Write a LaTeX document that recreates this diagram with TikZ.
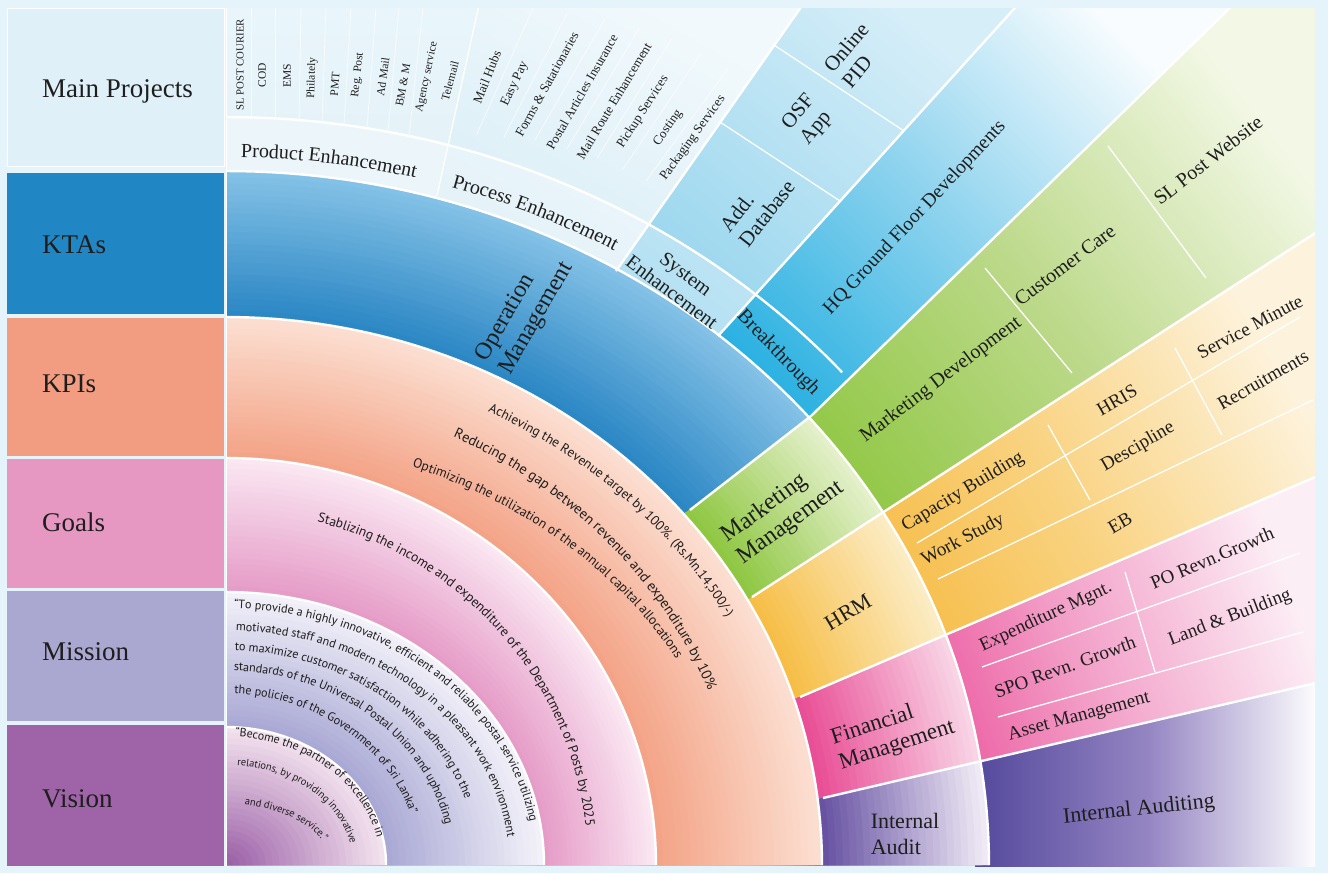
\documentclass[tikz,border=0pt]{standalone}
\usepackage{fontspec}
\setmainfont{Liberation Serif}
\newfontfamily\sansf{PT Sans}
\usetikzlibrary{decorations.text}
\definecolor{bg}{HTML}{E5F3FA}
\definecolor{mp}{HTML}{E0F0F8}
\definecolor{kta}{HTML}{2186C4}
\definecolor{kpi}{HTML}{F29D82}
\definecolor{goal}{HTML}{E697C2}
\definecolor{mis}{HTML}{AAA7D1}
\definecolor{vis}{HTML}{9F63A8}
\definecolor{txt}{HTML}{1E1E1E}
\definecolor{opin}{HTML}{2A86C4}\definecolor{opout}{HTML}{86C3E7}
\definecolor{mkin}{HTML}{8DC63F}\definecolor{mkout}{HTML}{E6F1CE}
\definecolor{hrin}{HTML}{F6BD44}\definecolor{hrout}{HTML}{FCEDC8}
\definecolor{fiin}{HTML}{E84C94}\definecolor{fiout}{HTML}{F9D8E8}
\definecolor{auin}{HTML}{6550A1}\definecolor{auout}{HTML}{F3EEF8}
\definecolor{kpin}{HTML}{F3A386}\definecolor{kpout}{HTML}{FCE0D3}
\definecolor{goin}{HTML}{E59BC7}\definecolor{goout}{HTML}{FBE9F3}
\definecolor{miin}{HTML}{A9A7D4}\definecolor{miout}{HTML}{F4F3FA}
\definecolor{viin}{HTML}{9A5EA6}\definecolor{viout}{HTML}{F5E6F0}
\definecolor{prodb}{HTML}{DCEFF8}\definecolor{prodt}{HTML}{E9F5FA}
\definecolor{procb}{HTML}{CDE8F4}\definecolor{proct}{HTML}{F2F9FC}
\definecolor{sysb}{HTML}{8FD2EC}\definecolor{syst}{HTML}{D6EEF8}
\definecolor{hqb}{HTML}{27B0E1}\definecolor{hqm}{HTML}{8ED3EE}\definecolor{hqt}{HTML}{F8FCFE}
\definecolor{grb}{HTML}{8DC63F}\definecolor{grm}{HTML}{BCD98A}\definecolor{grt}{HTML}{F3F8E6}
\definecolor{orb}{HTML}{F5B534}\definecolor{orm}{HTML}{F9D27F}\definecolor{ort}{HTML}{FDF3DD}
\definecolor{pkb}{HTML}{E8388B}\definecolor{pkm}{HTML}{F29CC6}\definecolor{pkt}{HTML}{FCEEF5}
\definecolor{pub}{HTML}{54489C}\definecolor{pum}{HTML}{9485C2}\definecolor{put}{HTML}{FFFFFF}
\newcommand\fz[2]{\fontsize{#1}{#2}\selectfont}
\newcommand\kf{\sansf\fz{13.4}{15}}
\newcommand\kfb{\sansf\fz{14.4}{16}}
\newcommand\gf{\sansf\fz{13.6}{15}}
\newcommand\mf{\sansf\fz{12.2}{14}}
\newcommand\vfa{\sansf\fz{12}{13}}
\newcommand\vfb{\sansf\fz{10.5}{12}}
\newcommand\lbf{\fz{20}{22}}
\newcommand\ringfill[6]{%
  \foreach \j in {24,23,...,1}{%
    \pgfmathsetmacro\rxa{#1+(#3-#1)*\j/24}%
    \pgfmathsetmacro\rya{#2+(#4-#2)*\j/24}%
    \pgfmathtruncatemacro\pc{100*(\j-0.5)/24}%
    \fill[fill=#6!\pc!#5] (226,865) -- plot[domain=0:90,samples=46,variable=\t] ({226+\rxa*cos(\t)},{865-\rya*sin(\t)}) -- cycle;
  }}
\begin{document}
\begin{tikzpicture}[x=1pt,y=-1pt,
  sep/.style={white,line width=2.4pt},
  tsep/.style={white,line width=1.3pt},
  faint/.style={white,line width=0.9pt,opacity=0.6},
  lbl/.style={text=txt,inner sep=0pt},
  head/.style={lbl,anchor=base west,font=\fz{27}{30}},
  cell/.style={lbl,font=\fz{20}{23},align=center},
  kra/.style={lbl,font=\fz{24}{27},align=left},
  item/.style={lbl,font=\fz{11.5}{13}},
  pitem/.style={lbl,font=\fz{13}{15}},
  band/.style={lbl,font=\fz{19}{22}},
  arct/.style={decorate},
]
\useasboundingbox (0,0) rectangle (1328,873);
\fill[bg] (0,0) rectangle (1328,873);
% ---- left column
\fill[mp] (7,8) rectangle (224,166);
\draw[white,line width=1pt] (7,8) rectangle (224,166);
\fill[kta] (7,173) rectangle (224,314);
\fill[kpi] (7,318) rectangle (224,456);
\fill[goal] (7,459) rectangle (224,588);
\fill[mis] (7,591) rectangle (224,721);
\fill[vis] (7,725) rectangle (224,866);
\node[head] (hmp) at (42,97) {Main Projects};
\node[head] (hkta) at (42,253) {KTAs};
\node[head] (hkpi) at (42,392) {KPIs};
\node[head] (hgoal) at (42,531) {Goals};
\node[head] (hmis) at (42,660) {Mission};
\node[head] (hvis) at (42,807) {Vision};
% ---- fan
\begin{scope}
\clip (226,8) rectangle (1315,866);
% top sectors
\shade[bottom color=prodb, top color=prodt] (226,420) -- (226,0) -- (480,0) -- (437,196) -- (388,420) -- cycle;
\shade[bottom color=procb, top color=proct, shading angle=-30] (388,420) -- (480,0) -- (806,0) -- (616,271) -- (559,353) -- cycle;
\shade[bottom color=sysb, top color=syst, shading angle=-40] (559,353) -- (806,0) -- (1022,0) -- (718,336) -- (691,366) -- cycle;
\shade[bottom color=hqb, top color=hqt, middle color=hqm, shading angle=-45] (691,366) -- (1022,0) -- (1238,0) -- (811,416) -- (760,466) -- cycle;
% outer bands
\shade[bottom color=grb, top color=grt, middle color=grm, shading angle=-52] (760,466) -- (1238,0) -- (1320,0) -- (1320,230) -- (752,597) -- cycle;
\shade[bottom color=orb, top color=ort, middle color=orm, shading angle=-60] (752,597) -- (1320,230) -- (1320,475) -- (800,697) -- cycle;
\shade[bottom color=pkb, top color=pkt, middle color=pkm, shading angle=-70] (800,697) -- (1320,475) -- (1320,682) -- (823,798) -- cycle;
\shade[bottom color=pub, top color=put, middle color=pum, shading angle=-90] (975,762) -- (1320,682) -- (1320,870) -- (975,870) -- cycle;
% label band overlay
\begin{scope}
\clip (226,0) -- (1022,0) -- (691,366) -- (226,700) -- cycle;
\fill[white,opacity=0.3,even odd rule] (226,865) -- plot[domain=0:90,samples=60,variable=\t] ({226+819*cos(\t)},{865-748*sin(\t)}) -- cycle
  (226,865) -- plot[domain=0:90,samples=60,variable=\t] ({226+763*cos(\t)},{865-694*sin(\t)}) -- cycle;
\end{scope}
% KTA ring
\ringfill{596}{548}{763}{694}{opin}{opout}
\begin{scope}\clip (666,528) -- (835,398) -- (912,492) -- (727,614) -- cycle;
\ringfill{596}{548}{763}{694}{mkin}{mkout}\end{scope}
\begin{scope}\clip (727,614) -- (912,492) -- (978,620) -- (772,709) -- cycle;
\ringfill{596}{548}{763}{694}{hrin}{hrout}\end{scope}
\begin{scope}\clip (772,709) -- (978,620) -- (1012,753) -- (794,805) -- cycle;
\ringfill{596}{548}{763}{694}{fiin}{fiout}\end{scope}
\begin{scope}\clip (794,805) -- (1012,753) -- (1050,880) -- (780,880) -- cycle;
\ringfill{596}{548}{763}{694}{auin}{auout}\end{scope}
% inner rings
\ringfill{430}{407}{596}{548}{kpin}{kpout}
\ringfill{318}{273}{430}{407}{goin}{goout}
\ringfill{160}{138}{318}{273}{miin}{miout}
\ringfill{0}{0}{160}{138}{viin}{viout}
% white separators
\foreach \rx/\ry in {160/138,318/273,430/407,596/548,763/694}{
  \draw[sep] plot[domain=0:90,samples=80,variable=\t] ({226+\rx*cos(\t)},{865-\ry*sin(\t)});}
\draw[sep] plot[domain=41.2:90,samples=60,variable=\t] ({226+819*cos(\t)},{865-748*sin(\t)});
\draw[tsep] (437,196) -- (480,0);
\draw[sep] (616,271) -- (806,0);
\draw[sep] (718,336) -- (1022,0);
\draw[sep] (811,416) -- (1238,0);
\draw[sep] (690,510) -- (811,416);
\draw[sep] (752,597) -- (1320,230);
\draw[sep] (800,697) -- (1320,475);
\draw[sep] (823,798) -- (1320,682);
\draw[sep] (226,8) -- (226,866);
% interior dividers
\draw[tsep] (720,122) -- (840,201);
\draw[tsep] (774,45) -- (904,131);
\draw[tsep] (985,268) -- (1072,373);
\draw[tsep] (1108,146) -- (1206,278);
\draw[tsep] (917,543) -- (1300,317);
\draw[tsep] (938,579) -- (1313,400);
\draw[tsep] (1048,425) -- (1090,500);
\draw[tsep] (1175,348) -- (1222,435);
\draw[tsep] (982,667) -- (1300,553);
\draw[tsep] (998,717) -- (1303,632);
\draw[tsep] (1125,572) -- (1155,672);
\foreach \xb/\xt in {251/251,275/275,299/301,322/326,344/351,367/376,388/399,409/423}{
  \draw[faint] (\xb,{865-748*sqrt(1-((\xb-226)/819)^2)}) -- (\xt,8);}
\foreach \mx/\my/\a in {501/80/66,531/84/63,565/88/60,598/97/59,629/107/58,656/120/56,681/133/54}{
  \draw[faint] ({\mx-60*cos(\a)},{\my+60*sin(\a)}) -- ({\mx+80*cos(\a)},{\my-80*sin(\a)});}
% ---- texts: product items
\node[lbl,font=\fz{10.8}{12},rotate=90] (pi1) at (240,65) {SL POST COURIER};
\node[item,rotate=90] (pi2) at (262,75) {COD};
\node[item,rotate=90] (pi3) at (287,76) {EMS};
\node[item,rotate=88] (pi4) at (312,78) {Philately};
\node[item,rotate=86] (pi5) at (335,84) {PMT};
\node[item,rotate=84] (pi6) at (358,75) {Reg. Post};
\node[item,rotate=82] (pi7) at (383,77) {Ad Mail};
\node[item,rotate=80] (pi8) at (403,85) {BM \& M};
\node[item,rotate=78] (pi9) at (427,77) {Agency service};
\node[item,rotate=75] (pi10) at (450,81) {Telemail};
% process items
\node[pitem,rotate=68] (qi1) at (487,77) {Mail Hubs};
\node[pitem,rotate=65] (qi2) at (515,84) {Easy Pay};
\node[pitem,rotate=61] (qi3) at (547,84) {Forms \& Satationaries};
\node[pitem,rotate=60] (qi4) at (582,92) {Postal Articles Insurance};
\node[pitem,rotate=59] (qi5) at (614,101) {Mail Route Enhancement};
\node[pitem,rotate=57] (qi6) at (643,112) {Pickup Services};
\node[pitem,rotate=55] (qi7) at (668,128) {Costing};
\node[pitem,rotate=54] (qi8) at (693,138) {Packaging Services};
% system items
\node[lbl,font=\fz{21}{24},align=left,rotate=52] (si1) at (757,206) {Add.\\Database};
\node[lbl,font=\fz{21}{24},align=left,rotate=50] (si2) at (808,120) {OSF\\App};
\node[lbl,font=\fz{21}{24},align=left,rotate=50] (si3) at (855,55) {Online\\PID};
\node[lbl,font=\fz{19.5}{22},rotate=47] (hq) at (915,218) {HQ Ground Floor Developments};
% label band
\path[arct,decoration={text along path,raise=0pt,text color=txt,text={|\lbf|Product Enhancement}}]
  plot[domain=88.9:40,samples=80,variable=\t] ({226+781*cos(\t)},{865-708*sin(\t)});
\path[arct,decoration={text along path,raise=0pt,text color=txt,text={|\lbf|Process Enhancement}}]
  plot[domain=73.2:30,samples=80,variable=\t] ({226+781*cos(\t)},{865-708*sin(\t)});
\node[cell,rotate=-37] (sysen) at (679,283) {System\\Enhancement};
\node[cell,rotate=-46] (brk) at (778,353) {Breakthrough};
% KRA ring
\node[kra,rotate=60] (opm) at (525,312) {Operation\\Management};
\node[kra,rotate=36] (mkm) at (783,512) {Marketing\\Management};
\node[lbl,font=\fz{22}{25},rotate=31] (hrm) at (848,612) {HRM};
\node[lbl,font=\fz{23}{26},align=left,rotate=18] (fin) at (893,733) {Financial\\Management};
\node[lbl,font=\fz{22}{26},align=left] (ia) at (905,834) {Internal\\Audit};
% green band
\node[band,font=\fz{20}{22},rotate=37] (md) at (941,380) {Marketing Development};
\node[band,font=\fz{20}{22},rotate=37] (cc) at (1065,265) {Customer Care};
\node[band,font=\fz{20}{22},rotate=38] (slw) at (1208,160) {SL Post Website};
% orange band
\node[band,rotate=31] (cb) at (963,492) {Capacity Building};
\node[band,rotate=28] (ws) at (963,540) {Work Study};
\node[band,rotate=30] (hris) at (1117,400) {HRIS};
\node[band,rotate=30] (des) at (1138,447) {Descipline};
\node[band,rotate=28] (sm) at (1250,327) {Service Minute};
\node[band,rotate=30] (rec) at (1263,380) {Recruitments};
\node[band,rotate=30] (eb) at (1120,523) {EB};
% pink band
\node[band,rotate=25] (exm) at (1046,617) {Expenditure Mgnt.};
\node[band,rotate=23] (porg) at (1212,558) {PO Revn.Growth};
\node[band,rotate=20] (spo) at (1065,667) {SPO Revn. Growth};
\node[band,rotate=21] (lab) at (1230,618) {Land \& Building};
\node[band,rotate=15] (asm) at (1079,717) {Asset Management};
% purple band
\node[lbl,font=\fz{22}{25},rotate=6] (iau) at (1139,810) {Internal Auditing};
% KPI texts
\path[arct,decoration={text along path,raise=-4pt,text color=txt,text={|\kf|Achieving the Revenue target by 100{\%}. (Rs.Mn.14,500/-)}}]
  plot[domain=62.8:0,samples=90,variable=\t] ({226+576.8*cos(\t)},{865-514*sin(\t)});
\path[arct,decoration={text along path,raise=-4pt,text color=txt,text={|\kfb|Reducing the gap between revenue and expenditure by 10{\%}}}]
  plot[domain=64:0,samples=90,variable=\t] ({226+522*cos(\t)},{865-480.8*sin(\t)});
\path[arct,decoration={text along path,raise=-4pt,text color=txt,text={|\kf|Optimizing the utilization of the annual capital allocations}}]
  plot[domain=68.8:0,samples=90,variable=\t] ({226+518*cos(\t)},{865-431*sin(\t)});
% Goals text
\path[arct,decoration={text along path,raise=-4pt,text color=txt,text={|\gf|Stablizing the income and expenditure of the Department of Posts by 2025}}]
  plot[domain=75.4:-4,samples=90,variable=\t] ({226+366*cos(\t)},{865-358.5*sin(\t)});
% Mission texts
\path[arct,decoration={text along path,raise=-3.5pt,text color=txt,text={|\mf|“To provide a highly innovative, efficient and reliable postal service utilizing}}]
  plot[domain=88.5:-6,samples=90,variable=\t] ({226+311.7*cos(\t)},{865-260*sin(\t)});
\path[arct,decoration={text along path,raise=-3.5pt,text color=txt,text={|\mf|motivated staff and modern technology in a pleasant work environment}}]
  plot[domain=88:-6,samples=90,variable=\t] ({226+287*cos(\t)},{865-238*sin(\t)});
\path[arct,decoration={text along path,raise=-3.5pt,text color=txt,text={|\mf|to maximize customer satisfaction while adhering to the}}]
  plot[domain=88:-6,samples=90,variable=\t] ({226+254.7*cos(\t)},{865-218*sin(\t)});
\path[arct,decoration={text along path,raise=-3.5pt,text color=txt,text={|\mf|standards of the Universal Postal Union and upholding}}]
  plot[domain=88:-6,samples=90,variable=\t] ({226+227.7*cos(\t)},{865-198*sin(\t)});
\path[arct,decoration={text along path,raise=-3.5pt,text color=txt,text={|\mf|the policies of the Government of Sri Lanka”}}]
  plot[domain=87.5:-6,samples=90,variable=\t] ({226+196.5*cos(\t)},{865-175*sin(\t)});
% Vision texts
\path[arct,decoration={text along path,raise=-3.5pt,text color=txt,text={|\vfa|“Become the partner of excellence in}}]
  plot[domain=86.5:-8,samples=90,variable=\t] ({226+158*cos(\t)},{865-132*sin(\t)});
\path[arct,decoration={text along path,raise=-3pt,text color=txt,text={|\vfb|relations, by providing innovative}}]
  plot[domain=85:-8,samples=90,variable=\t] ({226+130.4*cos(\t)},{865-103*sin(\t)});
\path[arct,decoration={text along path,raise=-3pt,text color=txt,text={|\vfb|and diverse service.”}}]
  plot[domain=79.9:-8,samples=90,variable=\t] ({226+108.4*cos(\t)},{865-64*sin(\t)});
\end{scope}
\end{tikzpicture}
\end{document}
